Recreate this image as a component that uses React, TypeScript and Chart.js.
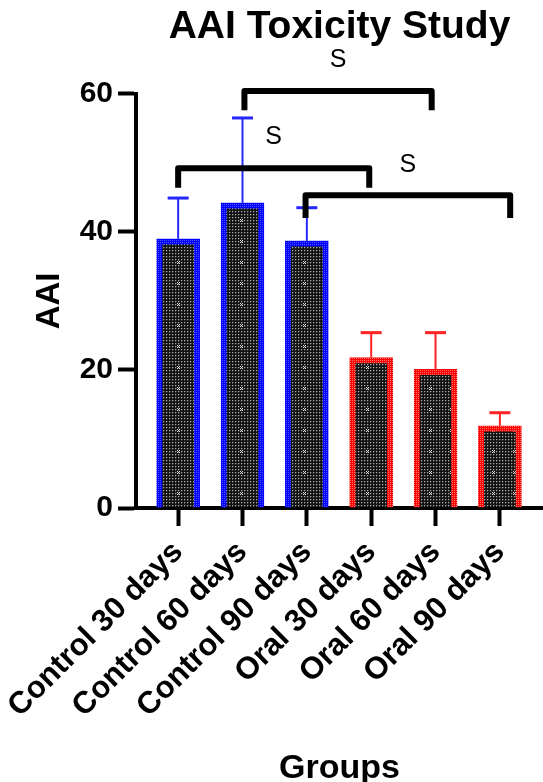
import React, { useEffect, useRef } from 'react';
import { Chart, registerables } from 'chart.js';

Chart.register(...registerables);

// ---- data ----
const categories = ['Control 30 days', 'Control 60 days', 'Control 90 days', 'Oral 30 days', 'Oral 60 days', 'Oral 90 days'];
const means = [39.0, 44.2, 38.7, 21.8, 20.1, 11.9];
const errorTops = [44.9, 56.5, 43.5, 25.4, 25.4, 13.8];
const groupOf = ['control', 'control', 'control', 'oral', 'oral', 'oral'];
const yTickValues = [0, 20, 40, 60];

// significance brackets (positions in category units / y values)
const bracketFrom = [1.03, 0, 1.98];
const bracketTo = [3.94, 2.97, 5.16];
const bracketLevel = [60.4, 49.2, 45.3];
const bracketLegEnd = [57.6, 46.4, 42.0];
const bracketText = ['S', 'S', 'S'];
const bracketTextLevel = [64.9, 53.7, 49.6];

const FONT = "'Liberation Sans', Arial, Helvetica, sans-serif";

function makeFillPattern(ctx: CanvasRenderingContext2D) {
  const c = document.createElement('canvas');
  c.width = 21;
  c.height = 21;
  const g = c.getContext('2d')!;
  g.fillStyle = '#121212';
  g.fillRect(0, 0, 21, 21);
  for (let i = 0; i < 7; i++) {
    for (let j = 0; j < 7; j++) {
      g.fillStyle = '#a8a8a8';
      g.fillRect(i * 3 + 1, j * 3 + 1, 1, 1);
      g.fillStyle = '#444444';
      g.fillRect(i * 3 + 2, j * 3 + 1, 1, 1);
      g.fillRect(i * 3 + 1, j * 3 + 2, 1, 1);
    }
  }
  g.fillStyle = '#e0e0e0';
  [[9, 9], [11, 9], [10, 10], [9, 11], [11, 11]].forEach(([a, b]) => g.fillRect(a, b, 1, 1));
  return ctx.createPattern(c, 'repeat')!;
}

function makeBorderPattern(ctx: CanvasRenderingContext2D, base: string, light: string) {
  const c = document.createElement('canvas');
  c.width = 2;
  c.height = 2;
  const g = c.getContext('2d')!;
  g.fillStyle = base;
  g.fillRect(0, 0, 2, 2);
  g.fillStyle = light;
  g.fillRect(0, 0, 1, 1);
  return ctx.createPattern(c, 'repeat')!;
}

const annotationPlugin = {
  id: 'errorsAndBrackets',
  afterDatasetsDraw(chart: any) {
    const { ctx, scales } = chart;
    const x = scales.x;
    const y = scales.y;
    const meta = chart.getDatasetMeta(0);
    ctx.save();
    meta.data.forEach((bar: any, i: number) => {
      const cx = bar.x;
      const top = bar.y;
      const ey = y.getPixelForValue(errorTops[i]);
      ctx.strokeStyle = groupOf[i] === 'control' ? '#2626ff' : '#ff2222';
      ctx.lineWidth = 2;
      ctx.beginPath();
      ctx.moveTo(cx, top);
      ctx.lineTo(cx, ey);
      ctx.stroke();
      ctx.lineWidth = 3;
      ctx.beginPath();
      ctx.moveTo(cx - 10.5, ey);
      ctx.lineTo(cx + 10.5, ey);
      ctx.stroke();
    });

    ctx.strokeStyle = '#000';
    ctx.lineWidth = 6;
    ctx.lineJoin = 'round';
    ctx.lineCap = 'butt';
    for (let k = 0; k < bracketFrom.length; k++) {
      const x1 = x.getPixelForValue(bracketFrom[k]);
      const x2 = x.getPixelForValue(bracketTo[k]);
      const yl = y.getPixelForValue(bracketLevel[k]);
      const ye = y.getPixelForValue(bracketLegEnd[k]);
      ctx.beginPath();
      ctx.moveTo(x1, ye);
      ctx.lineTo(x1, yl);
      ctx.lineTo(x2, yl);
      ctx.lineTo(x2, ye);
      ctx.stroke();
      ctx.fillStyle = '#000';
      ctx.font = `25px ${FONT}`;
      ctx.textAlign = 'center';
      ctx.textBaseline = 'middle';
      ctx.fillText(bracketText[k], (x1 + x2) / 2, y.getPixelForValue(bracketTextLevel[k]));
    }
    ctx.restore();
  },
};

export default function App() {
  const ref = useRef<HTMLCanvasElement>(null);

  useEffect(() => {
    const canvas = ref.current!;
    const ctx = canvas.getContext('2d')!;
    const fill = makeFillPattern(ctx);
    const blue = makeBorderPattern(ctx, '#0000ff', '#5050ff');
    const red = makeBorderPattern(ctx, '#ff0000', '#ff7070');

    const chart = new Chart(canvas, {
      type: 'bar',
      data: {
        datasets: [
          {
            data: categories.map((_, i) => ({ x: i, y: means[i] })),
            backgroundColor: fill,
            borderColor: groupOf.map((g) => (g === 'control' ? blue : red)),
            borderWidth: 6,
            barThickness: 43,
          } as any,
        ],
      },
      options: {
        responsive: false,
        devicePixelRatio: 1,
        animation: false,
        layout: { padding: 0 },
        plugins: {
          legend: { display: false },
          tooltip: { enabled: false },
          title: {
            display: true,
            text: 'AAI Toxicity Study',
            color: '#000',
            fullSize: false,
            font: { family: FONT, size: 39, weight: 'bold', lineHeight: 1.2 },
            padding: { top: 4, bottom: 43 },
          },
        },
        scales: {
          x: {
            type: 'linear',
            min: -0.655,
            max: 5.67,
            offset: false,
            afterFit: (s: any) => {
              s.height = 274;
              s.paddingLeft = 0;
              s.paddingRight = 0;
            },
            grid: {
              offset: false,
              drawOnChartArea: false,
              drawTicks: true,
              tickLength: 18,
              tickWidth: 4,
              tickColor: '#000',
            },
            border: { display: true, color: '#000', width: 4 },
            ticks: {
              stepSize: 1,
              includeBounds: false,
              autoSkip: false,
              minRotation: 45,
              maxRotation: 45,
              padding: 8,
              color: '#000',
              font: { family: FONT, size: 31, weight: 'bold' },
              callback: (v: any) => categories[Math.round(Number(v))] ?? '',
            },
            title: {
              display: true,
              text: 'Groups',
              color: '#000',
              font: { family: FONT, size: 34, weight: 'bold', lineHeight: 0.8 },
              padding: { top: 0, bottom: 0 },
            },
          } as any,
          y: {
            min: 0,
            max: 60,
            afterFit: (s: any) => {
              s.width = 136;
            },
            afterBuildTicks: (s: any) => {
              s.ticks = yTickValues.map((v) => ({ value: v }));
            },
            grid: {
              drawOnChartArea: false,
              drawTicks: true,
              tickLength: 18,
              tickWidth: 4,
              tickColor: '#000',
            },
            border: { display: true, color: '#000', width: 4 },
            ticks: {
              padding: 5,
              color: '#000',
              font: { family: FONT, size: 30, weight: 'bold' },
            },
            title: {
              display: true,
              text: 'AAI',
              color: '#000',
              font: { family: FONT, size: 33, weight: 'bold', lineHeight: 1.2 },
              padding: { top: 30, bottom: 0 },
            },
          } as any,
        },
      },
      plugins: [annotationPlugin],
    });
    return () => chart.destroy();
  }, []);

  return (
    <canvas
      ref={ref}
      width={543}
      height={782}
      style={{ position: 'absolute', left: 0, top: 0, width: 543, height: 782 }}
    />
  );
}
